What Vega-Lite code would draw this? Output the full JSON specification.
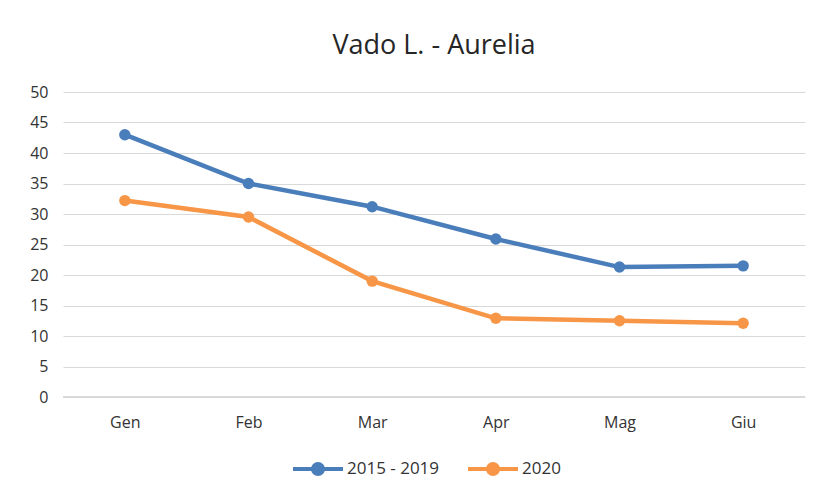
{
  "$schema": "https://vega.github.io/schema/vega-lite/v6.json",
  "width": 742,
  "height": 305,
  "autosize": "none",
  "padding": {"left": 63, "top": 92, "right": 15, "bottom": 102},
  "background": "white",
  "title": {"text": "Vado L. - Aurelia", "font": "Open Sans", "fontSize": 27, "fontWeight": "normal", "color": "#262626", "anchor": "middle", "offset": 24},
  "config": {
    "view": {"stroke": null},
    "font": "Open Sans",
    "axis": {"labelFont": "Open Sans", "labelFontSize": 16, "labelColor": "#333333", "gridColor": "#d9d9d9", "ticks": false, "domain": false, "title": null}
  },
  "data": {"values": [
    {"month": "Gen", "series": "2015 - 2019", "value": 43.0},
    {"month": "Feb", "series": "2015 - 2019", "value": 35.0},
    {"month": "Mar", "series": "2015 - 2019", "value": 31.2},
    {"month": "Apr", "series": "2015 - 2019", "value": 25.9},
    {"month": "Mag", "series": "2015 - 2019", "value": 21.3},
    {"month": "Giu", "series": "2015 - 2019", "value": 21.5},
    {"month": "Gen", "series": "2020", "value": 32.2},
    {"month": "Feb", "series": "2020", "value": 29.5},
    {"month": "Mar", "series": "2020", "value": 19.0},
    {"month": "Apr", "series": "2020", "value": 12.9},
    {"month": "Mag", "series": "2020", "value": 12.5},
    {"month": "Giu", "series": "2020", "value": 12.1}
  ]},
  "encoding": {
    "x": {"field": "month", "type": "ordinal", "sort": ["Gen", "Feb", "Mar", "Apr", "Mag", "Giu"], "scale": {"type": "point", "padding": 0.5}, "axis": {"labelAngle": 0, "grid": false, "labelPadding": 17}},
    "y": {"field": "value", "type": "quantitative", "scale": {"domain": [0, 50]}, "axis": {"values": [0,5,10,15,20,25,30,35,40,45,50], "labelPadding": 15}},
    "color": {"field": "series", "type": "nominal", "scale": {"domain": ["2015 - 2019", "2020"], "range": ["#4a7ebb", "#f79646"]},
      "legend": {"orient": "none", "legendX": 228, "legendY": 350, "direction": "horizontal", "title": null, "labelFontSize": 17, "labelColor": "#333333", "labelFont": "Open Sans",
        "symbolType": "M-1,0H1M0.2,0A0.2,0.2 0 1 1 -0.2,0A0.2,0.2 0 1 1 0.2,0", "symbolSize": 2500, "symbolStrokeWidth": 4, "symbolOpacity": 1, "columnPadding": 20, "labelOffset": 2}}
  },
  "layer": [
    {"mark": {"type": "rule", "color": "#d9d9d9", "strokeWidth": 1}, "encoding": {"y": {"datum": 0}, "x": null, "color": null}},
    {"mark": {"type": "line", "strokeWidth": 4.5, "point": {"size": 130, "filled": true, "opacity": 1}}}
  ]
}
